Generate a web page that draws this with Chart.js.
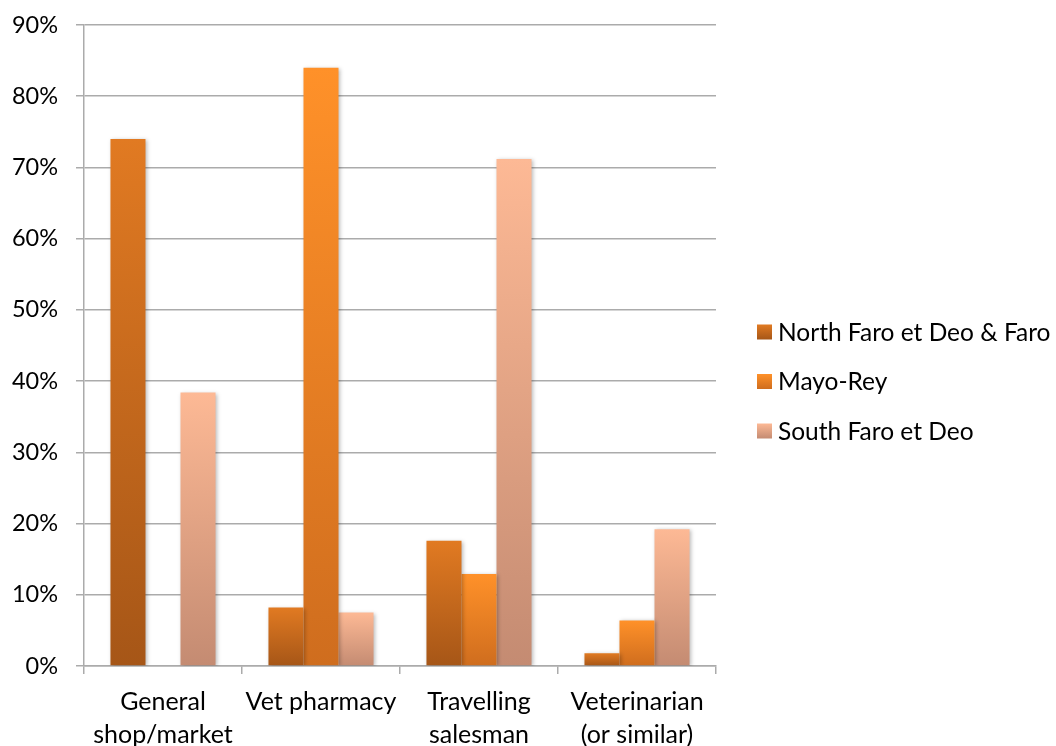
<!DOCTYPE html>
<html>
<head>
<meta charset="utf-8">
<script src="https://cdn.jsdelivr.net/npm/chart.js@4"></script>
<style>
  html, body { margin: 0; padding: 0; background: #fff; }
  #wrap { width: 1056px; height: 746px; }
</style>
</head>
<body>
<div id="wrap"><canvas id="chart" width="1056" height="746"></canvas></div>
<script>
'use strict';

const categories = [['General', 'shop/market'], 'Vet pharmacy', ['Travelling', 'salesman'], ['Veterinarian', '(or similar)']];
const seriesNames = ['North Faro et Deo & Faro', 'Mayo-Rey', 'South Faro et Deo'];
const northFaro = [74.0, 8.2, 17.6, 1.8];
const mayoRey = [0, 84.0, 12.9, 6.4];
const southFaro = [38.4, 7.5, 71.2, 19.2];
const yTicks = [0, 10, 20, 30, 40, 50, 60, 70, 80, 90];

// top / bottom colour of each series' vertical gradient
const seriesShades = [
  ['#E17A22', '#A65617'],
  ['#FF9129', '#CF6D1E'],
  ['#FDB995', '#C48B72'],
];

const FONT = 'Lato, "Open Sans", sans-serif';
const GRID = '#ABABAB';

function barGradient(shadeIndex) {
  return context => {
    const [top, bottom] = seriesShades[shadeIndex];
    if (context.type !== 'data') return top;
    const { chart } = context;
    const yScale = chart.scales.y;
    if (!yScale) return top;
    const yTop = yScale.getPixelForValue(context.raw);
    const yBottom = yScale.getPixelForValue(0);
    if (!Number.isFinite(yTop) || yBottom - yTop < 1) return top;
    const gradient = chart.ctx.createLinearGradient(0, yTop, 0, yBottom);
    gradient.addColorStop(0, top);
    gradient.addColorStop(1, bottom);
    return gradient;
  };
}

const barShadow = {
  id: 'barShadow',
  beforeDatasetsDraw(chart) {
    const ctx = chart.ctx;
    ctx.save();
    ctx.shadowColor = 'rgba(0, 0, 0, 0.28)';
    ctx.shadowBlur = 4;
    ctx.shadowOffsetX = 1.5;
    ctx.shadowOffsetY = 1;
  },
  afterDatasetsDraw(chart) {
    chart.ctx.restore();
  },
};

// legend on the right, drawn beside the plot like the spreadsheet one
const sideLegend = {
  id: 'sideLegend',
  afterDraw(chart) {
    const ctx = chart.ctx;
    const x = chart.chartArea.right + 41;
    const firstY = 332;
    const step = 49.5;
    const box = 15;
    ctx.save();
    ctx.font = `24.5px ${FONT}`;
    ctx.textBaseline = 'middle';
    ctx.fillStyle = '#000';
    seriesNames.forEach((name, i) => {
      const y = firstY + i * step;
      const [top, bottom] = seriesShades[i];
      const g = ctx.createLinearGradient(0, y - box / 2, 0, y + box / 2);
      g.addColorStop(0, top);
      g.addColorStop(1, bottom);
      ctx.fillStyle = g;
      ctx.fillRect(x, y - box / 2, box, box);
      ctx.fillStyle = '#000';
      ctx.fillText(name, x + box + 6, y + 1);
    });
    ctx.restore();
  },
};

const datasetValues = [northFaro, mayoRey, southFaro];

new Chart(document.getElementById('chart'), {
  type: 'bar',
  data: {
    labels: categories,
    datasets: datasetValues.map((values, i) => ({
      label: seriesNames[i],
      data: values,
      backgroundColor: barGradient(i),
      borderWidth: 0,
      categoryPercentage: 0.665,
      barPercentage: 1,
    })),
  },
  options: {
    responsive: false,
    animation: false,
    layout: { padding: { top: 25, right: 340, bottom: 0, left: 0 } },
    plugins: {
      legend: { display: false },
      tooltip: { enabled: false },
    },
    scales: {
      x: {
        offset: true,
        afterFit: scale => { scale.height = 80; },
        grid: { display: true, drawOnChartArea: false, offset: true, color: GRID, lineWidth: 1.5, tickLength: 8 },
        border: { display: true, color: GRID, width: 1.5 },
        ticks: {
          color: '#000',
          padding: 12,
          maxRotation: 0,
          autoSkip: false,
          font: { family: FONT, size: 25, lineHeight: 1.3 },
        },
      },
      y: {
        min: 0,
        max: 90,
        afterFit: scale => {
          scale.width = 84;
          scale.paddingTop = 0;
          scale.paddingBottom = 0;
        },
        afterBuildTicks: scale => { scale.ticks = yTicks.map(value => ({ value })); },
        grid: { color: GRID, lineWidth: 1.5, tickLength: 8 },
        border: { display: true, color: GRID, width: 1.5 },
        ticks: {
          color: '#000',
          padding: 18,
          font: { family: FONT, size: 23.5 },
          callback: value => `${value}%`,
        },
      },
    },
  },
  plugins: [barShadow, sideLegend],
});
</script>
</body>
</html>
